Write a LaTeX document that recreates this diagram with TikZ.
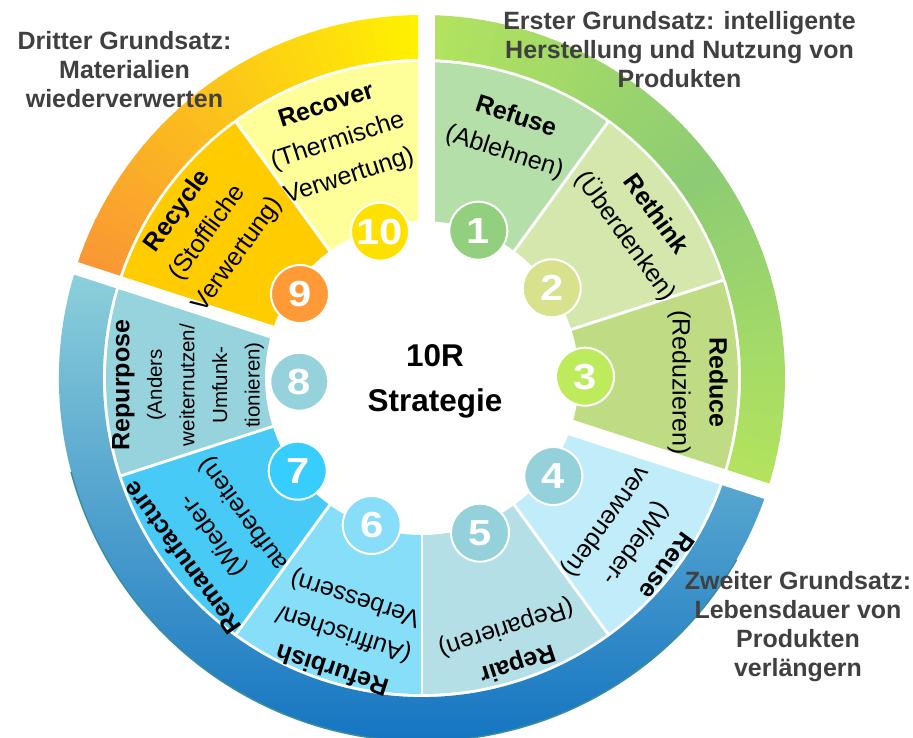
\documentclass[tikz,border=0pt]{standalone}
\usepackage{fontspec}
\setmainfont{Liberation Sans}
\definecolor{cRefuse}{HTML}{B5DFA8}
\definecolor{cRethink}{HTML}{D4E7AC}
\definecolor{cReduce}{HTML}{BFDB84}
\definecolor{cReuse}{HTML}{C1EDFB}
\definecolor{cRepair}{HTML}{B5DFE6}
\definecolor{cRefurbish}{HTML}{87DEF8}
\definecolor{cReman}{HTML}{47CAF6}
\definecolor{cRepurpose}{HTML}{96D3DC}
\definecolor{cRecycle}{HTML}{FFCC00}
\definecolor{cRecover}{HTML}{FFFF99}
\definecolor{nOne}{HTML}{92CF7F}
\definecolor{nTwo}{HTML}{D8E18B}
\definecolor{nThree}{HTML}{BDEB5C}
\definecolor{nFour}{HTML}{94D1DB}
\definecolor{nSix}{HTML}{88DEF8}
\definecolor{nSeven}{HTML}{37CDFD}
\definecolor{nEight}{HTML}{96D2DC}
\definecolor{nNine}{HTML}{FF9A36}
\definecolor{nTen}{HTML}{FFE100}
\definecolor{gOneEnd}{HTML}{B4E45E}
\definecolor{gOneMid}{HTML}{8DCC74}
\definecolor{gThreeA}{HTML}{FFF200}
\definecolor{gThreeB}{HTML}{F99535}
\definecolor{gTwoTop}{HTML}{8FD1DB}
\definecolor{gTwoMid}{HTML}{4DB4C8}
\definecolor{gTwoBot}{HTML}{0A6CBF}
\definecolor{gTwoLine}{HTML}{3A8D9A}
\definecolor{titlegray}{HTML}{404040}
\newcommand{\numtxt}[1]{\scalebox{1.15}[1]{#1}}
\begin{document}
\begin{tikzpicture}[x=0.75pt,y=0.75pt,
  annsec/.style n args={4}{insert path={(#1:#4) arc[start angle=#1,end angle=#2,radius=#4] -- (#2:#3) arc[start angle=#2,end angle=#1,radius=#3] -- cycle}},
  sepline/.style={white,line width=2.2pt},
  lab/.style={align=center,inner sep=0pt,font=\fontsize{18.75}{27.75}\selectfont},
  labsmall/.style={align=center,inner sep=0pt,font=\fontsize{15.4}{24.4}\selectfont},
  numc/.style={circle,draw=white,line width=1.5pt,minimum size=43.5pt,inner sep=0pt,text=white,font=\fontsize{27.2}{30}\selectfont\bfseries},
  ctext/.style={align=center,inner sep=0pt,font=\fontsize{23.6}{33.75}\selectfont\bfseries},
  title/.style={align=center,inner sep=0pt,text=titlegray,font=\fontsize{18.75}{21.75}\selectfont\bfseries}]
\useasboundingbox (-422,-360) rectangle (491,378);
\def\ri{157}\def\ro{316}\def\rri{319}\def\rro{363}
% ---------- group 1 (green) ----------
\begin{scope}
\clip (13,3.1) -- (13,600) -- (700,600) -- (678.7,-213.2) -- cycle;
\foreach \a in {-28,-26,...,98}{
  \pgfmathsetmacro\b{\a+2.3}
  \pgfmathtruncatemacro\pct{min(100,abs(\a+1-36)*100/54)}
  \fill[gOneEnd!\pct!gOneMid, annsec={\a}{\b}{\rri}{\rro}];
}
\fill[cRefuse, annsec={54}{100}{\ri}{\ro}];
\fill[cRethink, annsec={18}{54}{\ri}{\ro}];
\fill[cReduce, annsec={-28}{18}{\ri}{\ro}];
\draw[sepline] (54:150) -- (54:318);
\draw[sepline] (18:150) -- (18:318);
\end{scope}
% ---------- group 2 (blue) ----------
\begin{scope}
\clip (662.8,-225.1) -- (-668.6,207.5) -- (-700,-700) -- (700,-700) -- cycle;
\shade[top color=gTwoTop, middle color=gTwoMid, bottom color=gTwoBot, annsec={162}{342}{\rri}{\rro}];
\draw[gTwoLine, line width=1.1pt] (195:363.3) arc[start angle=195,end angle=330,radius=363.3];
\fill[cReuse, annsec={-54}{-8}{\ri}{\ro}];
\fill[cRepair, annsec={-90}{-54}{\ri}{\ro}];
\fill[cRefurbish, annsec={-126}{-90}{\ri}{\ro}];
\fill[cReman, annsec={-162}{-126}{\ri}{\ro}];
\fill[cRepurpose, annsec={-208}{-162}{\ri}{\ro}];
\draw[sepline] (-54:150) -- (-54:318);
\draw[sepline] (-90:150) -- (-90:318);
\draw[sepline] (-126:150) -- (-126:318);
\draw[sepline] (-162:150) -- (-162:318);
\end{scope}
% ---------- group 3 (yellow/orange) ----------
\begin{scope}
\clip (-4,5.5) -- (-4,600) -- (-700,600) -- (-669.7,221.8) -- cycle;
\foreach \a in {80,82,...,170}{
  \pgfmathsetmacro\b{\a+2.3}
  \pgfmathtruncatemacro\pct{max(0,min(100,(\a+1-90)*100/72))}
  \fill[gThreeB!\pct!gThreeA, annsec={\a}{\b}{\rri}{\rro}];
}
\fill[cRecover, annsec={80}{126}{\ri}{\ro}];
\fill[cRecycle, annsec={126}{172}{\ri}{\ro}];
\draw[sepline] (126:150) -- (126:318);
\end{scope}
% ---------- segment labels ----------
\node[lab, rotate=-18] (tRefuse) at (88,243) {\textbf{Refuse}\\(Ablehnen)};
\node[lab, rotate=-54] (tRethink) at (218,152) {\textbf{Rethink}\\(Überdenken)};
\node[lab, rotate=-90] (tReduce) at (275.5,-4.5) {\textbf{Reduce}\\(Reduzieren)};
\node[lab, rotate=-126] (tReuse) at (213,-165) {\textbf{Reuse}\\(Wieder-\\verwenden)};
\node[lab, rotate=-162] (tRepair) at (89.5,-267) {\textbf{Repair}\\(Reparieren)};
\node[lab, rotate=162] (tRefurbish) at (-78,-255) {\textbf{Refurbish}\\(Auffrischen/\\Verbessern)};
\node[lab, rotate=126] (tReman) at (-208,-157) {\textbf{Remanufacture}\\(Wieder-\\aufbereiten)};
\node[labsmall, rotate=90] (tRepurpose) at (-234,-7) {{\fontsize{18.75}{24.4}\selectfont\bfseries Repurpose}\\(Anders\\weiternutzen/\\Umfunk-\\tionieren)};
\node[lab, rotate=54] (tRecycle) at (-214,145) {\textbf{Recycle}\\(Stoffliche\\Verwertung)};
\node[lab, rotate=18] (tRecover) at (-84,236) {\textbf{Recover}\\(Thermische\\Verwertung)};
% ---------- number circles ----------
\node[numc, fill=nOne] (n1) at (56.3,147.3) {\numtxt{1}};
\node[numc, fill=nTwo] (n2) at (129.7,89.7) {\numtxt{2}};
\node[numc, fill=nThree] (n3) at (163,1.3) {\numtxt{3}};
\node[numc, fill=nFour] (n4) at (131.3,-98) {\numtxt{4}};
\node[numc, fill=nFour] (n5) at (58,-154.7) {\numtxt{5}};
\node[numc, fill=nSix] (n6) at (-50.3,-147) {\numtxt{6}};
\node[numc, fill=nSeven] (n7) at (-124.3,-92.7) {\numtxt{7}};
\node[numc, fill=nEight] (n8) at (-122.7,-3.7) {\numtxt{8}};
\node[numc, fill=nNine] (n9) at (-122,84) {\numtxt{9}};
\node[numc, fill=nTen] (n10) at (-42,146.3) {\numtxt{10}};
% ---------- centre ----------
\node[ctext] (centre) at (13,-3) {10R\\Strategie};
% ---------- titles ----------
\node[title] (gThree) at (-297.5,308) {Dritter Grundsatz:\\Materialien\\wiederverwerten};
\node[title] (gOne) at (257.5,328) {Erster Grundsatz: intelligente\\Herstellung und Nutzung von\\Produkten};
\node[title] (gTwo) at (376,-249) {Zweiter Grundsatz:\\Lebensdauer von\\Produkten\\verlängern};
\end{tikzpicture}
\end{document}
